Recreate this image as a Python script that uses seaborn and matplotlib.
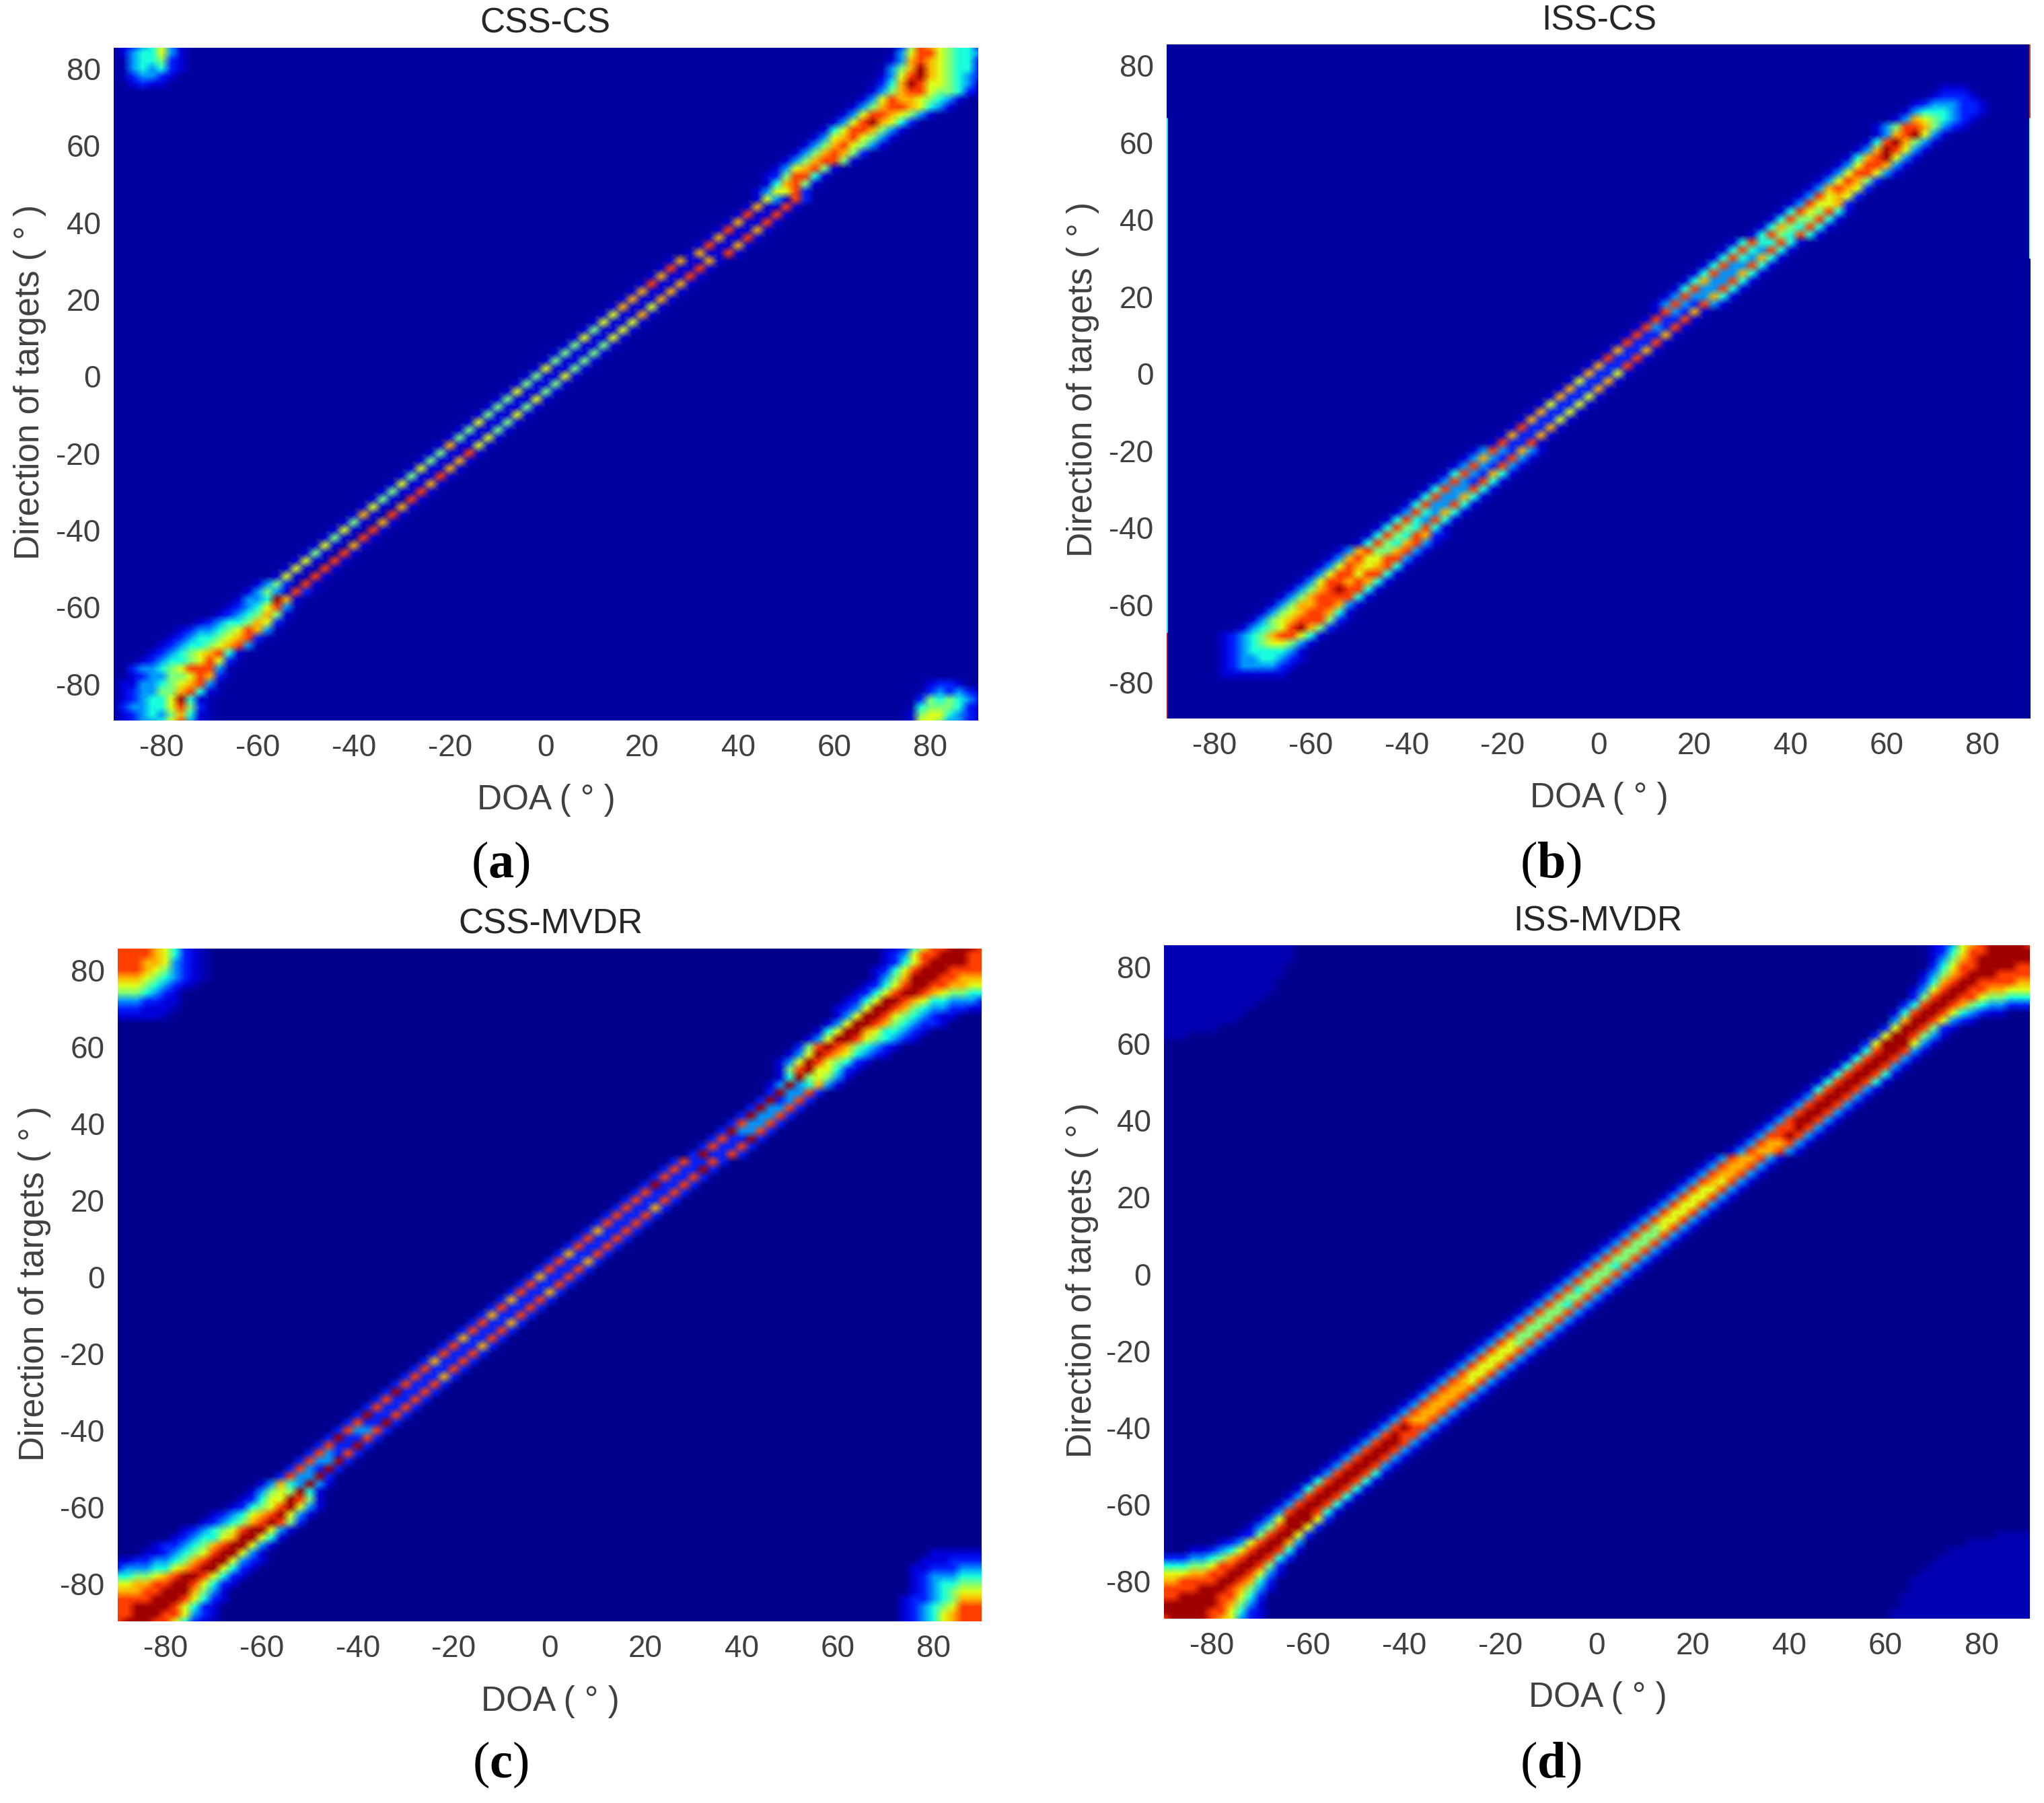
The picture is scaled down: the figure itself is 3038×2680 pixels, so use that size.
import matplotlib
matplotlib.use("Agg")
import matplotlib.pyplot as plt
import numpy as np
import seaborn as sns

# figure size in pixels, everything below is placed from the reference pixels
W, H = 3038, 2680

X_TICKS = [-80, -60, -40, -20, 0, 20, 40, 60, 80]
Y_TICKS = [-80, -60, -40, -20, 0, 20, 40, 60, 80]
X_NODES = list(range(-90, 92, 2))
Y_NODES = list(range(-90, 88, 2))

TITLES = ["CSS-CS", "ISS-CS", "CSS-MVDR", "ISS-MVDR"]
LETTERS = ["a", "b", "c", "d"]

# colour level of each digit used in the row tables below
LEVELS = [0.045, 0.08, 0.16, 0.27, 0.38, 0.50, 0.62, 0.72, 0.84, 0.97]
BACKGROUND = [0.03, 0.03, 0.015, 0.015]

# (direction of target, first DOA of the run, level digits every 2 degrees)
CSS_CS = [
    (-90, -88, "1233468310"), (-90, 76, "16653321"), (-88, -88, "1234357410"), (-88, 76, "15664321"),
    (-86, -88, "2334468520"), (-86, 76, "04555421"), (-84, -88, "1234469410"), (-84, 78, "2545432"),
    (-82, -88, "12335578410"), (-82, 78, "0232321"), (-80, -88, "11334567830"), (-80, 80, "1221"),
    (-78, -86, "12335568720"), (-76, -86, "23345688830"), (-74, -84, "12344568620"), (-72, -82, "1234567841"),
    (-70, -80, "12344567830"), (-68, -78, "12344567820"), (-66, -76, "12334568730"), (-64, -72, "1234457620"),
    (-62, -68, "12345751"), (-60, -66, "12346830"), (-58, -64, "1334971"), (-56, -62, "13531820"),
    (-54, -60, "1352081"), (-52, -56, "161081"), (-50, -54, "161081"), (-48, -52, "161081"),
    (-46, -50, "151081"), (-44, -48, "161071"), (-42, -46, "151081"), (-40, -44, "161081"),
    (-38, -42, "151071"), (-36, -40, "171081"), (-34, -38, "161071"), (-32, -36, "151081"),
    (-30, -34, "151181"), (-28, -32, "161171"), (-26, -30, "151181"), (-24, -28, "161171"),
    (-22, -26, "151171"), (-20, -24, "151181"), (-18, -22, "171161"), (-16, -20, "151161"),
    (-14, -18, "151151"), (-12, -16, "161151"), (-10, -14, "151161"), (-8, -12, "151151"),
    (-6, -10, "151161"), (-4, -8, "161151"), (-2, -6, "151151"), (0, -4, "151161"),
    (2, -2, "161151"), (4, 0, "151151"), (6, 2, "151151"), (8, 4, "151151"),
    (10, 6, "161161"), (12, 8, "151161"), (14, 10, "161161"), (16, 12, "161171"),
    (18, 14, "171161"), (20, 16, "171171"), (22, 18, "171171"), (24, 20, "181171"),
    (26, 22, "171181"), (28, 24, "181181"), (30, 26, "171171"), (32, 30, "171181"),
    (34, 32, "181171"), (36, 34, "171181"), (38, 36, "181171"), (40, 38, "171181"),
    (42, 40, "181181"), (44, 42, "171181"), (46, 44, "163182"), (48, 44, "136682"),
    (50, 46, "147851"), (52, 46, "1258841"), (54, 48, "1367851"), (56, 50, "13578851"),
    (58, 52, "13578752"), (60, 54, "135786531"), (62, 56, "136786531"), (64, 58, "146887531"),
    (66, 60, "136897642"), (68, 62, "1368876531"), (70, 64, "13578876431"), (72, 66, "13687765431"),
    (74, 68, "135788655421"), (76, 68, "024798665431"), (78, 70, "13689765432"), (80, 70, "03579765442"),
    (82, 72, "1378765442"), (84, 72, "0368865443"), (86, 74, "258765442"),
    (86, -88, "1234631"), (84, -88, "1344631"), (82, -88, "0344521"), (80, -88, "0343421"),
    (78, -88, "023321"), (76, -86, "1211"),
]

ISS_CS = [
    (-78, -78, "1111111"), (-76, -78, "12333321"), (-74, -78, "123344321"), (-72, -78, "123444431"),
    (-70, -78, "1234566531"), (-68, -78, "12345788641"), (-66, -74, "13456897520"), (-64, -72, "13567888520"),
    (-62, -70, "1356788741"), (-60, -68, "1357788731"), (-58, -66, "1357888841"), (-56, -64, "1357898841"),
    (-54, -62, "1368878741"), (-52, -60, "1368868841"), (-50, -58, "1368767841"), (-48, -56, "1378668831"),
    (-46, -54, "1378557831"), (-44, -50, "148547831"), (-42, -48, "148548721"), (-40, -46, "14854841"),
    (-38, -44, "14843841"), (-36, -42, "13843741"), (-34, -40, "14833841"), (-32, -38, "14833741"),
    (-30, -36, "14833841"), (-28, -34, "13832841"), (-26, -32, "14832741"), (-24, -30, "13832831"),
    (-22, -28, "13732831"), (-20, -26, "13832731"), (-18, -22, "182281"), (-16, -20, "172271"),
    (-14, -18, "182271"), (-12, -16, "172261"), (-10, -14, "172261"), (-8, -12, "162261"),
    (-6, -10, "172261"), (-4, -8, "172271"), (-2, -6, "162271"), (0, -4, "172261"),
    (2, -2, "172281"), (4, 0, "182281"), (6, 2, "172271"), (8, 4, "182281"),
    (10, 6, "182271"), (12, 8, "183281"), (14, 10, "182281"), (16, 12, "183271"),
    (18, 12, "13832831"), (20, 14, "13833741"), (22, 16, "14833841"), (24, 18, "14733841"),
    (26, 20, "14833741"), (28, 22, "14833841"), (30, 24, "14843741"), (32, 26, "14843841"),
    (34, 28, "14844841"), (36, 32, "14854841"), (38, 34, "14754841"), (40, 36, "14855841"),
    (42, 38, "14865841"), (44, 40, "1386672"), (46, 42, "1386762"), (48, 44, "1378762"),
    (50, 46, "1368752"), (52, 48, "13688631"), (54, 50, "13688731"), (56, 52, "14789631"),
    (58, 54, "13798631"), (60, 56, "14897531"), (62, 58, "13789631"), (64, 58, "1358875321"),
    (66, 62, "137654321"), (68, 64, "134443221"), (70, 66, "12333221"), (72, 70, "12221"),
    (74, 72, "111"),
]

CSS_MVDR = [
    (-90, -90, "89998864210"), (-88, -90, "88999886321"), (-86, -90, "88999986421"), (-84, -90, "888899986421"),
    (-82, -90, "777889997531"), (-80, -90, "6677889986421"), (-78, -90, "44556789986421"), (-76, -90, "233344678996421"),
    (-74, -90, "1122334578996321"), (-72, -84, "1123456899631"), (-70, -82, "1223457899631"), (-68, -78, "123446799641"),
    (-66, -76, "123456899631"), (-64, -72, "12345789852"), (-62, -70, "12346789631"), (-60, -66, "1245689631"),
    (-58, -64, "124669851"), (-56, -62, "13565941"), (-54, -60, "13743931"), (-52, -56, "283392"),
    (-50, -54, "283292"), (-48, -52, "283392"), (-46, -50, "283282"), (-44, -48, "282292"),
    (-42, -46, "292282"), (-40, -44, "283382"), (-38, -42, "282292"), (-36, -40, "292282"),
    (-34, -38, "282282"), (-32, -36, "282282"), (-30, -34, "292282"), (-28, -32, "282282"),
    (-26, -30, "282272"), (-24, -28, "282282"), (-22, -26, "272282"), (-20, -24, "282282"),
    (-18, -22, "282272"), (-16, -20, "272282"), (-14, -18, "282282"), (-12, -16, "282272"),
    (-10, -14, "272282"), (-8, -12, "282282"), (-6, -10, "272282"), (-4, -8, "282272"),
    (-2, -6, "282282"), (0, -4, "272282"), (2, -2, "282282"), (4, 0, "282272"),
    (6, 2, "272282"), (8, 4, "282282"), (10, 6, "282282"), (12, 8, "272282"),
    (14, 10, "282282"), (16, 12, "282282"), (18, 14, "282272"), (20, 16, "282282"),
    (22, 18, "282282"), (24, 20, "292282"), (26, 22, "282282"), (28, 24, "282292"),
    (30, 26, "282282"), (32, 30, "292282"), (34, 32, "282282"), (36, 34, "282292"),
    (38, 36, "293382"), (40, 38, "283382"), (42, 40, "293382"), (44, 42, "293382"),
    (46, 44, "292382"), (48, 46, "293382"), (50, 46, "13934731"), (52, 48, "14956531"),
    (54, 48, "158966421"), (56, 48, "1369865421"), (58, 50, "13698764321"), (60, 52, "25898754321"),
    (62, 54, "136998654321"), (64, 56, "146997644321"), (66, 58, "1369987543221"), (68, 60, "1369986543211"),
    (70, 60, "1236998754332211"), (72, 62, "124699876443332"), (74, 64, "12468998765544"), (76, 66, "1246899887766"),
    (78, 68, "135799988777"), (80, 68, "124689998888"), (82, 70, "12468999988"), (84, 70, "12368899988"),
    (86, 70, "01246889998"),
    (86, -90, "8888764210"), (84, -90, "8888764210"), (82, -90, "8887763210"), (80, -90, "8887653210"),
    (78, -90, "7776543210"), (76, -90, "666543210"), (74, -90, "5554321"), (72, -90, "3332211"),
    (70, -90, "2221110"), (68, -90, "111110"),
    (-90, 74, "123467888"), (-88, 74, "123467888"), (-86, 74, "123456888"), (-84, 74, "122345777"),
    (-82, 76, "12345666"), (-80, 76, "12344555"), (-78, 76, "12333444"), (-76, 76, "11222333"),
    (-74, 78, "1112222"), (-72, 80, "111111"),
]

ISS_MVDR = [
    (-90, -90, "89999876321"), (-88, -90, "99999886421"), (-86, -90, "99999987531"), (-84, -90, "88999988642"),
    (-82, -90, "888899987531"), (-80, -90, "778888998742"), (-78, -90, "6667788998631"), (-76, -90, "4445568899852"),
    (-74, -90, "22233457899842"), (-72, -84, "112346899841"), (-70, -78, "123689973"), (-68, -74, "12589962"),
    (-66, -72, "13589962"), (-64, -70, "13699962"), (-62, -68, "13899841"), (-60, -66, "13899841"),
    (-58, -64, "13899841"), (-56, -62, "14899841"), (-54, -60, "14899841"), (-52, -58, "13899841"),
    (-50, -56, "13899831"), (-48, -54, "13899831"), (-46, -52, "13899831"), (-44, -50, "13899831"),
    (-42, -48, "13898831"), (-40, -46, "13898831"), (-38, -44, "13877831"), (-36, -42, "13877831"),
    (-34, -40, "13877831"), (-32, -38, "13877831"), (-30, -36, "13877831"), (-28, -34, "13876831"),
    (-26, -32, "13866831"), (-24, -30, "13866831"), (-22, -28, "13866831"), (-20, -26, "13866831"),
    (-18, -24, "13865831"), (-16, -22, "13855831"), (-14, -20, "13855831"), (-12, -18, "13855831"),
    (-10, -16, "13855831"), (-8, -14, "13854831"), (-6, -12, "13855831"), (-4, -10, "13845831"),
    (-2, -8, "13855831"), (0, -6, "13855831"), (2, -4, "13854831"), (4, -2, "13855831"),
    (6, 0, "13855831"), (8, 2, "13855831"), (10, 4, "13855831"), (12, 6, "13856831"),
    (14, 8, "13866831"), (16, 10, "13866831"), (18, 12, "13866831"), (20, 14, "13866831"),
    (22, 16, "13866831"), (24, 18, "13876831"), (26, 20, "13877831"), (28, 22, "13877831"),
    (30, 24, "13877831"), (32, 28, "13877831"), (34, 30, "13877831"), (36, 32, "13889831"),
    (38, 34, "13889831"), (40, 36, "13899831"), (42, 38, "13899831"), (44, 40, "13899831"),
    (46, 42, "13899831"), (48, 44, "14899831"), (50, 46, "14899841"), (52, 48, "14899841"),
    (54, 50, "14899831"), (56, 52, "14899831"), (58, 54, "14899831"), (60, 56, "26999631"),
    (62, 58, "26998531"), (64, 60, "26998521"), (66, 62, "379986321"), (68, 62, "148998643211"),
    (70, 64, "24899875433222"), (72, 66, "2589988655444"), (74, 66, "1368998877666"), (76, 68, "247899888877"),
    (78, 68, "135789998888"), (80, 70, "24688999988"), (82, 70, "13578999999"), (84, 70, "12468899999"),
    (86, 70, "12367899998"),
    (86, -90, "00000000000000"), (84, -90, "00000000000000"), (82, -90, "00000000000000"), (80, -90, "0000000000000"),
    (78, -90, "0000000000000"), (76, -90, "000000000000"), (74, -90, "000000000000"), (72, -90, "00000000000"),
    (70, -90, "0000000000"), (68, -90, "000000000"), (66, -90, "00000000"), (64, -90, "000000"), (62, -90, "000"),
    (-90, 62, "000000000000000"), (-88, 62, "000000000000000"), (-86, 64, "00000000000000"), (-84, 64, "00000000000000"),
    (-82, 66, "0000000000000"), (-80, 66, "0000000000000"), (-78, 68, "000000000000"), (-76, 70, "00000000000"),
    (-74, 72, "0000000000"), (-72, 74, "000000000"), (-70, 78, "0000000"), (-68, 84, "0000"),
]

PANEL_ROWS = [CSS_CS, ISS_CS, CSS_MVDR, ISS_MVDR]

# thin coloured columns on the edges of the ISS-CS image: DOA, from, to, colour
ISS_CS_EDGES = [
    (-90, -90, -67, "#a81818"),
    (-90, -67, 66, "#40d8e0"),
    (90, 66, 85.4, "#c04020"),
    (90, 30, 66, "#a0f0f8"),
]

# panel boxes in reference pixels: left, top, right, bottom
BOXES = [
    (169, 71, 1454, 1071),
    (1734, 66, 3018, 1068),
    (175, 1410, 1459, 2410),
    (1730, 1405, 3017, 2406),
]
Y_RANGES = [(-89.5, 85.4), (-89.5, 85.4), (-89.8, 85.6), (-89.8, 85.6)]
TITLE_XY = [(810, 35), (2377, 31), (818, 1374), (2375, 1370)]
XLABEL_XY = [(812, 1190), (2377, 1186), (818, 2530), (2375, 2524)]
YLABEL_XY = [(45, 568), (1610, 564), (52, 1908), (1608, 1903)]
LETTER_XY = [(744, 1285), (2305, 1285), (744, 2623), (2305, 2623)]

TEXT_GREY = "#404040"


def build_grid(rows, background):
    grid = np.full((len(Y_NODES), len(X_NODES)), background)
    for y, x0, digits in rows:
        r = (y + 90) // 2
        for i, d in enumerate(digits):
            c = (x0 + 90) // 2 + i
            if c < len(X_NODES):
                grid[r, c] = LEVELS[int(d)]
    return grid


def to_col(x):
    return (x + 90) / 2


def to_row(y):
    return (y + 90) / 2


def put_text(fig, xy, text, **kw):
    fig.text(xy[0] / W, 1 - xy[1] / H, text, ha="center", va="center", **kw)


def draw_panel(fig, i):
    left, top, right, bottom = BOXES[i]
    ax = fig.add_axes([left / W, 1 - bottom / H, (right - left) / W, (bottom - top) / H])
    grid = build_grid(PANEL_ROWS[i], BACKGROUND[i])
    sns.heatmap(grid, cmap="jet", vmin=0, vmax=1, cbar=False, shading="gouraud",
                xticklabels=False, yticklabels=False, ax=ax)
    if i == 1:
        for x, y0, y1, colour in ISS_CS_EDGES:
            ax.plot([to_col(x)] * 2, [to_row(y0), to_row(y1)], color=colour, lw=3)
    ax.set_xlim(0, len(X_NODES) - 1)
    ax.set_ylim(to_row(Y_RANGES[i][0]), to_row(Y_RANGES[i][1]))
    ax.set_xticks([to_col(v) for v in X_TICKS], [str(v) for v in X_TICKS])
    ax.set_yticks([to_row(v) for v in Y_TICKS], [str(v) for v in Y_TICKS], rotation=0)
    ax.tick_params(length=0, labelsize=33, labelcolor=TEXT_GREY, pad=14)
    for spine in ax.spines.values():
        spine.set_visible(False)

    put_text(fig, TITLE_XY[i], TITLES[i], fontsize=37, color="#262626")
    put_text(fig, XLABEL_XY[i], "DOA ( ° )", fontsize=37, color=TEXT_GREY)
    put_text(fig, YLABEL_XY[i], "Direction of targets ( ° )", fontsize=37, color=TEXT_GREY, rotation=90)
    put_text(fig, LETTER_XY[i], "($\\mathbf{" + LETTERS[i] + "}$)", fontsize=55, color="black",
             family="Liberation Serif")


def main():
    sns.set_theme(style="white")
    plt.rcParams["font.family"] = ["Liberation Sans", "DejaVu Sans"]
    plt.rcParams["mathtext.fontset"] = "custom"
    plt.rcParams["mathtext.rm"] = "Liberation Serif"
    plt.rcParams["mathtext.bf"] = "Liberation Serif:bold"

    fig = plt.figure(figsize=(W / 100, H / 100), dpi=100, facecolor="white")
    for i in range(4):
        draw_panel(fig, i)
    fig.savefig("out.png", dpi=100)
    plt.close(fig)


if __name__ == "__main__":
    main()
